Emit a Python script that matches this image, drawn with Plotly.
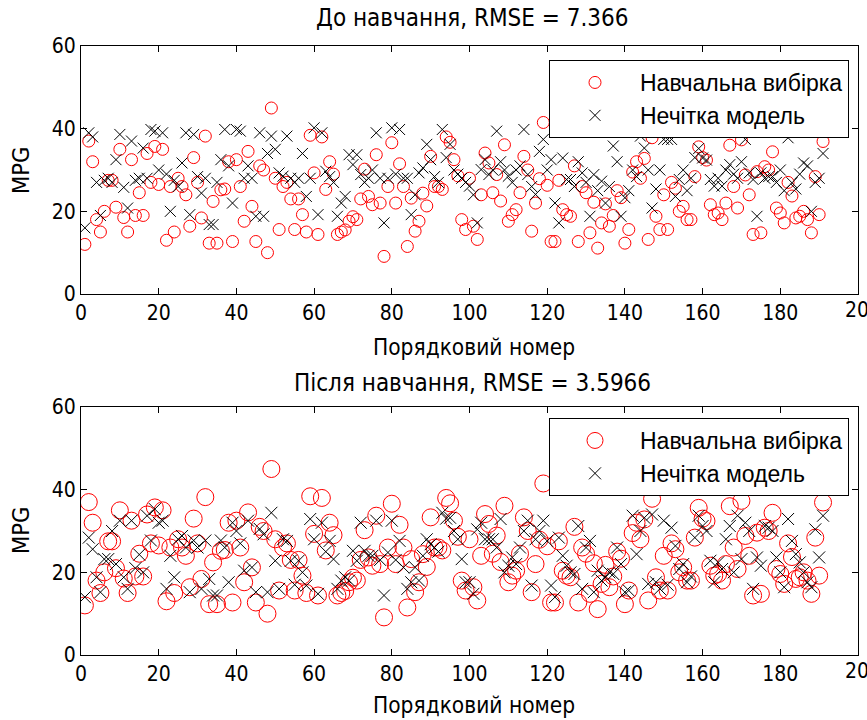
import plotly.graph_objects as go

mpg = [12, 37, 32, 18, 15, 20, 27.5, 27.5, 21, 35,
       18.5, 15, 32.5, 19, 24.5, 19, 34, 27, 35.7, 26.5,
       35, 13, 26, 15, 28, 26, 24, 16.4, 33, 27,
       18.4, 38.2, 12.3, 22.4, 12.3, 25.2, 25.4, 32, 12.7, 32.5,
       26, 17.6, 34.5, 21.2, 12.7, 31, 30, 10, 45, 28,
       15.6, 26, 27, 23, 15.6, 23, 19.2, 15, 38.4, 29.3,
       14.4, 38, 25.3, 32, 29, 14.4, 15, 15.5, 17.6, 18.7,
       18, 23, 30.2, 23.6, 21.6, 33.7, 22, 9.1, 26, 36.6,
       22, 31.5, 26, 11.5, 23.2, 15.2, 17.6, 24.4, 21.3, 33.3,
       26, 26, 25.3, 38, 36.7, 32.5, 28.6, 18, 15.6, 28,
       16.4, 13.2, 24, 34.1, 31.7, 24.5, 28.9, 22.5, 36.1, 17.6,
       19.2, 20.4, 24.5, 33.3, 30, 15.2, 22, 27.9, 41.5, 26.3,
       12.7, 12.7, 27.5, 20.4, 19.2, 18.8, 31, 12.7, 26, 24.5,
       14.8, 22.2, 11.1, 17.2, 21.8, 16.4, 19, 25, 23.3, 12.3,
       15.6, 29.5, 32, 28, 32.8, 13.2, 37.8, 18.8, 15.6, 24,
       15.6, 27, 25.6, 20, 21.2, 18, 18, 28.4, 35.6, 33,
       32.4, 21.6, 19.2, 19.6, 18, 22, 36, 26, 20.8, 37.3,
       28.8, 24, 14.4, 29.6, 14.8, 30.8, 30, 34.4, 20.8, 19.6,
       17.2, 27, 23.7, 18.4, 18.8, 20, 18, 14.8, 28.4, 19.2,
       36.9]

model_before = [16, 39, 38, 27, 19, 27.5, 28, 27, 32.5, 38.6,
                25.8, 20.8, 37, 27.5, 28, 35.3, 28, 39.8, 39.4, 30,
                39, 29, 20, 27.5, 26, 31.7, 39, 19.2, 38.6, 28.4,
                24.4, 28, 16.8, 16.8, 27, 32.5, 39.8, 31, 22, 39.8,
                39.4, 28, 31, 28, 18.8, 39, 18.8, 34, 38.2, 35,
                29.3, 28.5, 38.2, 28, 27, 28, 34, 23.6, 28, 40.2,
                19.2, 39, 29.7, 28.4, 27, 18.8, 22, 23.6, 33.7, 31.3,
                33.7, 28.9, 27, 28, 30, 39, 28, 17.2, 28, 40.2,
                29, 39.8, 28, 28, 19.2, 24, 29.3, 30.5, 36.2, 32.5,
                28.4, 27, 39.8, 33, 36.2, 30, 29, 28, 27, 26.1,
                24, 17.2, 30.1, 32.5, 28.9, 30, 39.4, 32, 30, 28.5,
                27, 30, 31, 39.8, 28.9, 26, 24.1, 34.5, 37.4, 30,
                32.5, 22, 17.2, 32.9, 27.7, 27.7, 26, 32, 29.3, 27,
                18.8, 28.9, 25, 27.3, 22, 26, 35.8, 32, 18.8, 23.3,
                25, 30, 28.4, 38.2, 35.3, 30, 20.8, 25.4, 30, 37.4,
                37.4, 37.4, 23.6, 27.7, 30, 25, 28, 33, 35.2, 32.9,
                32.4, 27.7, 26.1, 28, 26.1, 30, 31.3, 29, 28, 32,
                37.4, 29.3, 27.7, 18.8, 29.3, 28, 28.4, 28.4, 27, 30,
                25, 37.8, 26.9, 25.4, 29, 31.7, 31, 20, 27, 28,
                34]

model_after = [14, 28.4, 25.6, 18.8, 15.2, 23.2, 23.2, 30, 22, 32.5,
               18.8, 16, 32.5, 21, 24.3, 20, 33.7, 27.7, 35.3, 32,
               32.5, 16, 24, 18.8, 28, 28.8, 26, 15.2, 27.7, 26,
               16, 27.7, 18.4, 14.4, 14.4, 27.7, 26, 17.6, 32, 30,
               27, 20.4, 32.5, 21.2, 15.2, 30.5, 29.2, 15.2, 34.4, 22.8,
               16, 28, 27.6, 22.8, 17, 22.8, 20, 16.8, 32.9, 28,
               14.8, 32, 25, 27.6, 23.2, 16, 18, 18.8, 18, 25.2,
               22.8, 32, 25.2, 24, 24, 32.5, 23, 14.4, 24.8, 32.5,
               23, 27.6, 21.2, 16, 17.6, 21.2, 18, 24, 28, 26.8,
               26, 25, 34.4, 33, 33.2, 30, 28, 23.2, 17.6, 17.6,
               14.8, 30.4, 32, 28, 28, 28, 26, 32.9, 20, 21.6,
               23.6, 22, 26, 30, 32.5, 16.8, 28, 30, 32.5, 27.6,
               16.8, 14, 28.4, 24, 21.6, 20, 19.6, 31.2, 16, 26,
               27.6, 15.2, 20.4, 18, 18.8, 20, 19.6, 26, 22, 15.2,
               15.6, 33.7, 24.4, 30, 33.2, 17.2, 34, 17.6, 16, 32.5,
               17, 30.8, 26.4, 20.8, 22, 17.6, 19, 28.4, 33.7, 31.2,
               30, 22.8, 17.6, 22.4, 20.8, 28, 31.2, 20, 33.7, 23.2,
               32, 30, 16, 23.6, 21.6, 31.2, 30.8, 30, 23.6, 20,
               16.4, 32.9, 27.6, 24.4, 22.4, 20, 17.6, 16.4, 30.4, 23.6,
               33.7]

idx = list(range(1, len(mpg) + 1))

titles = ["До навчання, RMSE = 7.366", "Після навчання, RMSE = 3.5966"]
xlabel = "Порядковий номер"
ylabel = "MPG"
names = ["Навчальна вибірка", "Нечітка модель"]
xticks = [0, 20, 40, 60, 80, 100, 120, 140, 160, 180, 200]
xticktext = ["0", "20", "40", "60", "80", "100", "120", "140", "160", "180", ""]
yticks = [0, 20, 40, 60]

NARROW = "Liberation Sans Narrow, Arial Narrow, DejaVu Sans Condensed, sans-serif"
REGULAR = "Liberation Sans, Arial, sans-serif"

fig = go.Figure()

fig.add_trace(go.Scatter(x=idx, y=mpg, mode="markers", name=names[0], legendgroup="a",
                         marker=dict(symbol="circle-open", size=12, color="#ff0000", line=dict(width=1)),
                         xaxis="x", yaxis="y", legend="legend"))
fig.add_trace(go.Scatter(x=idx, y=model_before, mode="markers", name=names[1], legendgroup="b",
                         marker=dict(symbol="x-thin-open", size=11, color="black", line=dict(width=1, color="black")),
                         xaxis="x", yaxis="y", legend="legend"))
fig.add_trace(go.Scatter(x=idx, y=mpg, mode="markers", name=names[0], legendgroup="c",
                         marker=dict(symbol="circle-open", size=17, color="#ff0000", line=dict(width=1)),
                         xaxis="x2", yaxis="y2", legend="legend2"))
fig.add_trace(go.Scatter(x=idx, y=model_after, mode="markers", name=names[1], legendgroup="d",
                         marker=dict(symbol="x-thin-open", size=12, color="black", line=dict(width=1, color="black")),
                         xaxis="x2", yaxis="y2", legend="legend2"))

W, H = 867, 720
L, R, T, B = 81, 9, 46, 65
pw = W - L - R
ph = H - T - B
top_dom = [(H - B - 294) / ph, 1.0]
bot_dom = [0.0, (H - B - 407) / ph]

axis_common = dict(showgrid=False, zeroline=False, showline=True, linecolor="black", linewidth=1,
                   mirror="ticks", ticks="inside", ticklen=6, tickcolor="black",
                   ticklabeloverflow="allow",
                   tickfont=dict(family=NARROW, size=21, color="black"))

leg_common = dict(xanchor="left", yanchor="top", bgcolor="white", bordercolor="black", borderwidth=1,
                  font=dict(family=REGULAR, size=23, color="black"), itemwidth=80,
                  traceorder="grouped", tracegroupgap=0)

fig.update_layout(
    width=W, height=H,
    margin=dict(l=L, r=R, t=T, b=B),
    paper_bgcolor="white", plot_bgcolor="white",
    font=dict(family=NARROW, size=21, color="black"),
    xaxis=dict(domain=[0, 1], range=[0, 200], tickvals=xticks, ticktext=xticktext, anchor="y", **axis_common),
    yaxis=dict(domain=top_dom, range=[0, 60], tickvals=yticks, anchor="x", **axis_common),
    xaxis2=dict(domain=[0, 1], range=[0, 200], tickvals=xticks, ticktext=xticktext, anchor="y2", **axis_common),
    yaxis2=dict(domain=bot_dom, range=[0, 60], tickvals=yticks, anchor="x2", **axis_common),
    legend=dict(x=(549 - L) / pw, y=(H - B - 60) / ph, **leg_common),
    legend2=dict(x=(549 - L) / pw, y=(H - B - 418) / ph, **leg_common),
    showlegend=True,
)

ann = []
for i, (ty, ly, my, xr, yr) in enumerate([(18, 347, 171, "x", "y"), (383, 705, 531, "x2", "y2")]):
    ann.append(dict(text=titles[i], x=(473 - L) / pw, y=(H - B - ty) / ph,
                    xref="paper", yref="paper", showarrow=False,
                    font=dict(family=NARROW, size=24), xanchor="center", yanchor="middle"))
    ann.append(dict(text=xlabel, x=(474 - L) / pw, y=(H - B - ly) / ph,
                    xref="paper", yref="paper", showarrow=False,
                    font=dict(family=NARROW, size=22.5), xanchor="center", yanchor="middle"))
    ann.append(dict(text=ylabel, x=(21 - L) / pw, y=(H - B - my) / ph,
                    xref="paper", yref="paper", showarrow=False, textangle=-90,
                    font=dict(family=NARROW, size=23.5), xanchor="center", yanchor="middle"))
    # last x tick label, clipped by the page edge as in the reference
    ann.append(dict(text=str(xticks[-1]), x=xticks[-1], y=0, xref=xr, yref=yr,
                    showarrow=False, yanchor="top", xanchor="center", yshift=-2, xshift=5,
                    font=dict(family=NARROW, size=21, color="black")))
fig.update_layout(annotations=ann)

fig.write_html("out.html", config={"displayModeBar": False},
               post_script="document.body.style.margin='0';document.body.style.padding='0';")
